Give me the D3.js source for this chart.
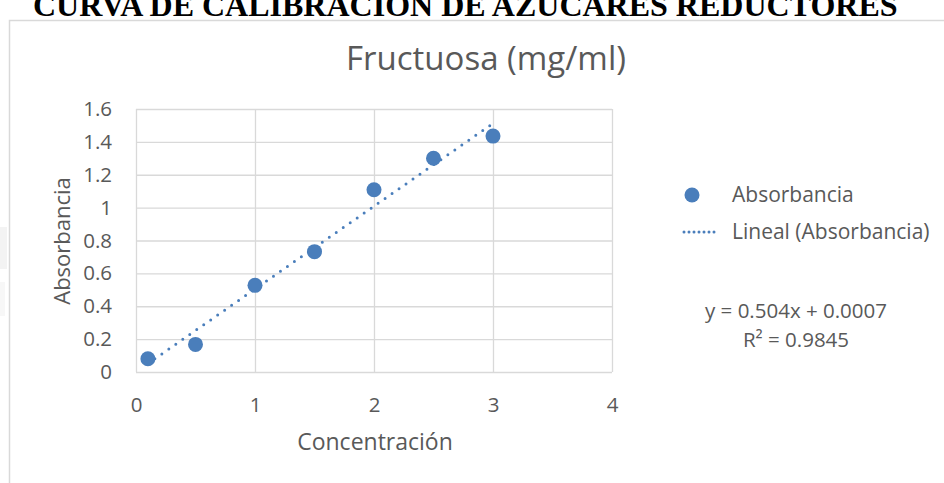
<!DOCTYPE html>
<meta charset="utf-8">
<style>
body { margin: 0; background: #fff; overflow: hidden; }
text { font-family: "Open Sans", Lato, sans-serif; fill: #595959; }
.grid line { stroke: #d9d9d9; stroke-width: 1.3px; }
.grid .domain { display: none; }
.trend { fill: none; stroke: #4a7ebb; stroke-width: 3px; stroke-linecap: round; stroke-dasharray: 0 8.5; }
</style>
<body>
<script src="https://d3js.org/d3.v7.min.js"></script>
<script>

// data
var concentracion = [0.1, 0.5, 1, 1.5, 2, 2.5, 3];
var absorbancia = [0.081, 0.168, 0.527, 0.732, 1.109, 1.30, 1.435];
var xTicks = [0, 1, 2, 3, 4];
var yTicks = [0, 0.2, 0.4, 0.6, 0.8, 1, 1.2, 1.4, 1.6];
var pendiente = 0.504, intercepto = 0.0007, r2 = 0.9845;

var W = 944, H = 483;
var svg = d3.select("body").append("svg")
    .attr("width", W)
    .attr("height", H);

// heading of the page, cut at the top
svg.append("text")
    .attr("x", 33)
    .attr("y", 16)
    .style("font-family", "'Liberation Serif', 'DejaVu Serif', serif")
    .style("font-weight", "bold")
    .style("font-size", "32px")
    .style("fill", "#000")
    .text("CURVA DE CALIBRACIÓN DE AZÚCARES REDUCTORES");

// faint marks at the left edge
svg.append("rect").attr("x", 0).attr("y", 227).attr("width", 7).attr("height", 42).attr("fill", "#f3f3f3");
svg.append("rect").attr("x", 0).attr("y", 282).attr("width", 5).attr("height", 34).attr("fill", "#f7f7f7");

// chart frame
svg.append("rect")
    .attr("x", 9.5)
    .attr("y", 20.5)
    .attr("width", W)
    .attr("height", H)
    .attr("fill", "none")
    .attr("stroke", "#d9d9d9")
    .attr("stroke-width", 1.5);

// scales
var x = d3.scaleLinear().domain([0, 4]).range([136, 612]);
var y = d3.scaleLinear().domain([0, 1.6]).range([372, 109]);

// gridlines + tick labels
svg.append("g")
    .attr("class", "grid")
    .attr("transform", "translate(0," + y(0) + ")")
    .call(d3.axisBottom(x).tickValues(xTicks).tickSize(-(y(0) - y(1.6))).tickSizeOuter(0).tickPadding(25).tickFormat(d3.format("d")))
    .selectAll("text")
    .style("font-size", "20.5px");

svg.append("g")
    .attr("class", "grid")
    .attr("transform", "translate(" + x(0) + ",0)")
    .call(d3.axisLeft(y).tickValues(yTicks).tickSize(-(x(4) - x(0))).tickSizeOuter(0).tickPadding(24).tickFormat(function(d) { return d3.format("")(+d.toFixed(1)); }))
    .selectAll("text")
    .style("font-size", "20.5px");

svg.selectAll(".grid").attr("font-family", null).attr("font-size", null);

// trend line over the data range
var xr = d3.extent(concentracion);
svg.append("path")
    .attr("class", "trend")
    .attr("d", d3.line()
        .x(function(d) { return x(d); })
        .y(function(d) { return y(pendiente * d + intercepto); })(xr));

// points
svg.selectAll("circle.pt")
    .data(concentracion)
  .enter().append("circle")
    .attr("class", "pt")
    .attr("r", 7.5)
    .attr("cx", function(d) { return x(d); })
    .attr("cy", function(d, i) { return y(absorbancia[i]); })
    .attr("fill", "#4a7ebb");

// titles
svg.append("text")
    .attr("x", 486)
    .attr("y", 70)
    .attr("text-anchor", "middle")
    .style("font-size", "33px")
    .text("Fructuosa (mg/ml)");

svg.append("text")
    .attr("x", 375)
    .attr("y", 450)
    .attr("text-anchor", "middle")
    .style("font-size", "23px")
    .text("Concentración");

svg.append("text")
    .attr("transform", "translate(70,241) rotate(-90)")
    .attr("text-anchor", "middle")
    .style("font-size", "22px")
    .text("Absorbancia");

// legend
var leg = svg.append("g");
leg.append("circle").attr("cx", 692).attr("cy", 195).attr("r", 7.5).attr("fill", "#4a7ebb");
leg.append("text").attr("x", 732).attr("y", 202).style("font-size", "21px").text("Absorbancia");
leg.append("line")
    .attr("x1", 684).attr("x2", 719).attr("y1", 232).attr("y2", 232)
    .attr("class", "trend")
    .style("stroke-dasharray", "0 5");
leg.append("text").attr("x", 732).attr("y", 239).style("font-size", "21px").text("Lineal (Absorbancia)");

// equation
svg.append("text")
    .attr("x", 796).attr("y", 318)
    .attr("text-anchor", "middle")
    .style("font-size", "20.5px")
    .text("y = " + pendiente + "x + " + intercepto.toFixed(4));
svg.append("text")
    .attr("x", 796).attr("y", 347)
    .attr("text-anchor", "middle")
    .style("font-size", "20.5px")
    .text("R² = " + r2);

</script>
</body>
